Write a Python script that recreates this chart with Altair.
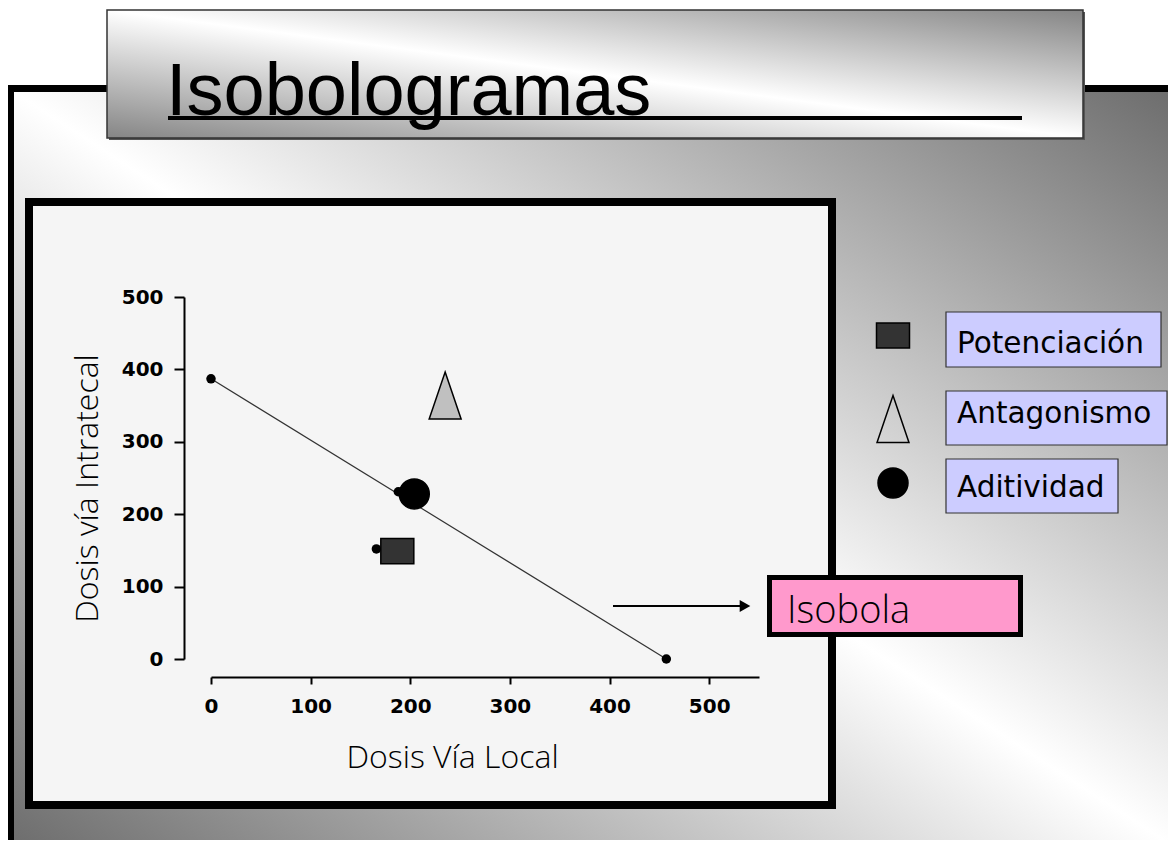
import altair as alt
import pandas as pd

# ---------------- data ----------------
iso_local = [0, 457]            # isobole end points, Dosis Vía Local
iso_intrat = [387, 0]           # isobole end points, Dosis vía Intratecal
ed_local = [0, 188, 166, 457]   # small black points
ed_intrat = [387, 231, 152, 0]
categories = ["Aditividad", "Potenciación", "Antagonismo"]
comb_local = [204, 187, 235]
comb_intrat = [228, 149, 364]
legend_order = ["Potenciación", "Antagonismo", "Aditividad"]
x_ticks = [0, 100, 200, 300, 400, 500]
y_ticks = [0, 100, 200, 300, 400, 500]
title_text = "Isobologramas"
x_title = "Dosis Vía Local"
y_title = "Dosis vía Intratecal"
isobola_label = "Isobola"

# ---------------- layout helpers ----------------
W, H = 1160, 832
OFF = 8


def X(v):
    return alt.value(v - OFF)


def Y(v):
    return alt.value(v - OFF)


one = pd.DataFrame({"k": [0]})


def grad(dark, light):
    return alt.Gradient(
        gradient="linear", x1=1, y1=0, x2=0, y2=1,
        stops=[alt.GradientStop(color=dark, offset=0),
               alt.GradientStop(color=light, offset=0.5),
               alt.GradientStop(color=dark, offset=1)])


def box(x0, y0, x1, y1, **kw):
    return alt.Chart(one).mark_rect(**kw).encode(x=X(x0), x2=X(x1), y=Y(y0), y2=Y(y1))


def label(txt, x, y, **kw):
    return alt.Chart(one).mark_text(text=txt, align="left", baseline="alphabetic", **kw).encode(x=X(x), y=Y(y))


SQ = "M-1,-0.758L1,-0.758L1,0.758L-1,0.758Z"
TRI = "M0,-1L0.68,1L-0.68,1Z"
style = {
    "Aditividad": dict(shape="circle", size=900, fill="#000000"),
    "Potenciación": dict(shape=SQ, size=1089, fill="#333333"),
    "Antagonismo": dict(shape=TRI, size=2209, fill="#c0c0c0"),
}

# ---------------- decorations ----------------
layers = []
layers.append(box(8, 88, 1176, 848, fill=grad("#6c6c6c", "#ffffff")))
layers.append(box(7, 85, 1176, 92, fill="#000000"))
layers.append(box(7, 85, 14, 848, fill="#000000"))
layers.append(box(1174, 88, 1176, 848, fill="#333333"))
layers.append(box(109, 12, 1085, 140, fill="#555555"))
layers.append(box(107, 10, 1083, 138, fill=grad("#858585", "#ffffff"), stroke="#333333", strokeWidth=1.5))
layers.append(label(title_text, 166, 115, font="Liberation Sans", fontSize=74, color="#000000"))
layers.append(box(168, 116, 1022, 120, fill="#000000"))
layers.append(box(29, 202, 832, 805, fill="#f5f5f5", stroke="#000000", strokeWidth=8))

# ---------------- data chart ----------------
xs = alt.Scale(domain=[0, 550], range=[211 - OFF, 759 - OFF], nice=False, zero=False)
ys = alt.Scale(domain=[0, 500], range=[659 - OFF, 297 - OFF], nice=False, zero=False)
x_axis = alt.Axis(values=x_ticks, offset=(677 - OFF) - H, grid=False, zindex=2,
                  domainColor="#000000", domainWidth=2, tickColor="#000000", tickWidth=2,
                  tickSize=7, labelPadding=12, labelFont="DejaVu Sans", labelFontWeight="bold",
                  labelFontSize=20, labelColor="#000000", labelOverlap=False, labelFlush=False,
                  title=x_title, titleFont="Open Sans", titleFontWeight=300, titleFontSize=32,
                  titleColor="#000000", titleX=452 - OFF, titleY=767 - 677, titleAlign="center",
                  titleBaseline="alphabetic", titleAngle=0)
y_axis = alt.Axis(values=y_ticks, offset=-(184 - OFF), grid=False, zindex=2,
                  domainColor="#000000", domainWidth=2, tickColor="#000000", tickWidth=2,
                  tickSize=10, labelPadding=11, labelFont="DejaVu Sans", labelFontWeight="bold",
                  labelFontSize=20, labelColor="#000000", labelOverlap=False, labelFlush=False,
                  title=y_title, titleFont="Open Sans", titleFontWeight=300, titleFontSize=32,
                  titleColor="#000000", titleX=97 - 184, titleY=488 - OFF, titleAlign="center",
                  titleBaseline="alphabetic", titleAngle=270)

iso_df = pd.DataFrame({"local": iso_local, "intrat": iso_intrat})
ed_df = pd.DataFrame({"local": ed_local, "intrat": ed_intrat})
comb_df = pd.DataFrame({"cat": categories, "local": comb_local, "intrat": comb_intrat})

layers.append(alt.Chart(iso_df).mark_line(color="#333333", strokeWidth=1.2).encode(
    x=alt.X("local:Q", scale=xs, axis=x_axis),
    y=alt.Y("intrat:Q", scale=ys, axis=y_axis)))
layers.append(alt.Chart(ed_df).mark_circle(size=90, color="#000000", opacity=1).encode(
    x=alt.X("local:Q", scale=xs), y=alt.Y("intrat:Q", scale=ys)))
for cat in categories:
    s = style[cat]
    layers.append(alt.Chart(comb_df).transform_filter(alt.datum.cat == cat).mark_point(
        shape=s["shape"], size=s["size"], fill=s["fill"], filled=True, opacity=1,
        stroke="#000000", strokeWidth=1.5).encode(
        x=alt.X("local:Q", scale=xs), y=alt.Y("intrat:Q", scale=ys)))

# ---------------- legend ----------------
leg_sym_y = {"Potenciación": 335.5, "Antagonismo": 419, "Aditividad": 483}
leg_box = {"Potenciación": (946, 312, 1161, 367), "Antagonismo": (946, 391, 1167, 445),
           "Aditividad": (946, 459, 1118, 513)}
leg_base = {"Potenciación": 353, "Antagonismo": 423, "Aditividad": 497}
for cat in legend_order:
    s = style[cat]
    fill = "transparent" if cat == "Antagonismo" else s["fill"]
    layers.append(alt.Chart(one).mark_point(
        shape=s["shape"], size=s["size"], fill=fill, filled=True, opacity=1,
        stroke="#000000", strokeWidth=1.5).encode(x=X(893), y=Y(leg_sym_y[cat])))
    bx = leg_box[cat]
    layers.append(box(*bx, fill="#ccccff", stroke="#333333", strokeWidth=1.2))
    layers.append(label(cat, 957, leg_base[cat], font="DejaVu Sans", fontSize=29.5, color="#000000"))

# ---------------- isobola annotation ----------------
layers.append(alt.Chart(one).mark_rule(color="#000000", strokeWidth=2).encode(
    x=X(613), x2=X(742), y=Y(606)))
layers.append(alt.Chart(one).mark_point(shape="triangle-right", size=150, filled=True,
                                        fill="#000000", opacity=1, stroke=None).encode(
    x=X(745), y=Y(606)))
layers.append(box(769.5, 577.5, 1020.5, 634.5, fill="#ff99cc", stroke="#000000", strokeWidth=5))
layers.append(label(isobola_label, 787, 623, font="Open Sans", fontWeight=300, fontSize=38,
                    color="#000000"))

chart = alt.layer(*layers).properties(
    width=W, height=H, padding=0, autosize=alt.AutoSizeParams(type="none"),
    background="#ffffff"
).configure_view(stroke=None)

chart.save("out.html", embed_options={"renderer": "svg", "actions": False})
